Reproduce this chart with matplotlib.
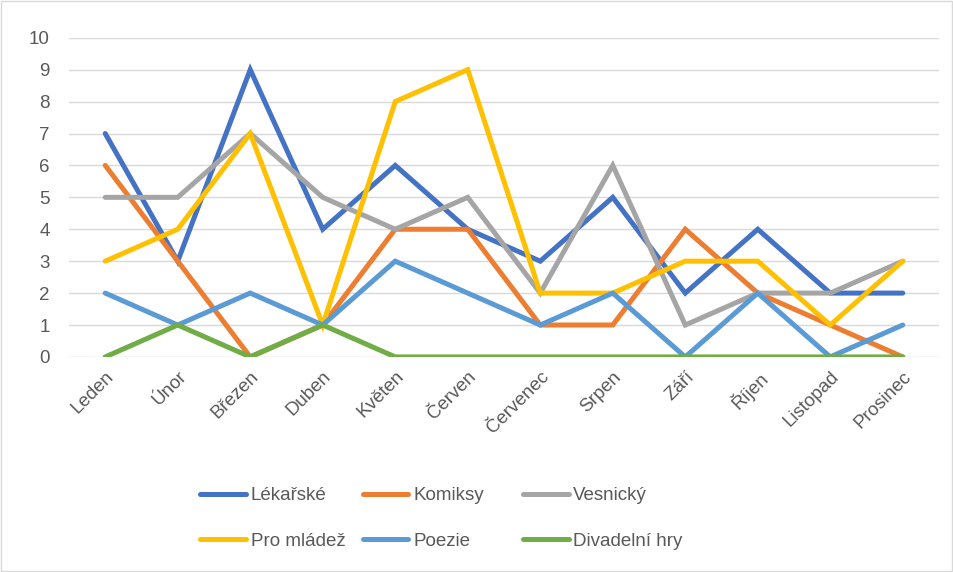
import matplotlib.pyplot as plt
from matplotlib.patches import Rectangle

# data
months = ["Leden", "Únor", "Březen", "Duben", "Květen", "Červen",
          "Červenec", "Srpen", "Září", "Říjen", "Listopad", "Prosinec"]
lekarske = [7, 3, 9, 4, 6, 4, 3, 5, 2, 4, 2, 2]
komiksy = [6, 3, 0, 1, 4, 4, 1, 1, 4, 2, 1, 0]
vesnicky = [5, 5, 7, 5, 4, 5, 2, 6, 1, 2, 2, 3]
pro_mladez = [3, 4, 7, 1, 8, 9, 2, 2, 3, 3, 1, 3]
poezie = [2, 1, 2, 1, 3, 2, 1, 2, 0, 2, 0, 1]
divadelni = [0, 1, 0, 1, 0, 0, 0, 0, 0, 0, 0, 0]

series_names = ["Lékařské", "Komiksy", "Vesnický", "Pro mládež", "Poezie", "Divadelní hry"]
series_values = [lekarske, komiksy, vesnicky, pro_mladez, poezie, divadelni]
colors = ["#4472C4", "#ED7D31", "#A5A5A5", "#FFC000", "#5B9BD5", "#70AD47"]

plt.rcParams["font.family"] = ["Liberation Sans", "DejaVu Sans"]

fig = plt.figure(figsize=(9.54, 5.72), dpi=100)
ax = fig.add_axes([0.0723, 0.376, 0.912, 0.558])

x = list(range(len(months)))
handles = []
for name, vals, c in zip(series_names, series_values, colors):
    ln, = ax.plot(x, vals, color=c, lw=3.6, label=name,
                  solid_capstyle="round", solid_joinstyle="miter")
    handles.append(ln)

ax.set_xlim(-0.5, len(months) - 0.5)
ax.set_ylim(0, 10)
ax.set_yticks(range(0, 11))
ax.set_xticks(x)
ax.set_xticklabels(months, rotation=45, ha="right", rotation_mode="anchor")
ax.tick_params(axis="both", length=0, labelsize=13.5, colors="#595959")
ax.tick_params(axis="y", pad=14)
ax.tick_params(axis="x", pad=8)
ax.grid(axis="y", color="#D9D9D9", lw=1)
ax.set_axisbelow(True)
for s in ax.spines.values():
    s.set_visible(False)

# legend: three columns, two rows (row-major like the original)
col_x = [0.210, 0.380, 0.548]
for i, cx in enumerate(col_x):
    pair = [handles[i], handles[i + 3]]
    leg = fig.legend(pair, [h.get_label() for h in pair], loc="upper left",
                     bbox_to_anchor=(cx, 0.148), frameon=False, fontsize=13.5,
                     handlelength=2.45, handletextpad=0.25, labelspacing=1.5,
                     borderaxespad=0, borderpad=0)
    for t in leg.get_texts():
        t.set_color("#595959")
    for ln in leg.get_lines():
        ln.set_linewidth(3.6)
        ln.set_solid_capstyle("round")

fig.patches.append(Rectangle((0.001, 0.001), 0.997, 0.997, transform=fig.transFigure,
                             fill=False, edgecolor="#D9D9D9", lw=1))

fig.savefig("out.png", dpi=100)
